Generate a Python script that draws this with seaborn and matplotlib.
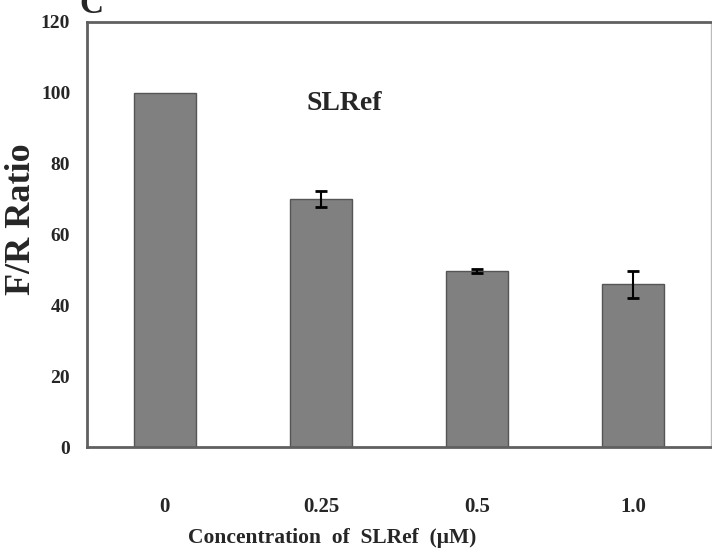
import pandas as pd
import matplotlib.pyplot as plt
import seaborn as sns

# Dados
concentracao = ['0', '0.25', '0.5', '1.0']
razao_fr = [100, 70, 49.7, 46]
erro = [float('nan'), 2.3, 0.5, 3.8]

df = pd.DataFrame({'conc': concentracao, 'ratio': razao_fr})

sns.set_style('white')
plt.rcParams['font.family'] = ['Liberation Serif', 'DejaVu Serif']
plt.rcParams['font.weight'] = 'bold'

fig = plt.figure(figsize=(7.12, 5.48), dpi=100)
ax = fig.add_axes([0.122, 0.184, 0.8766, 0.776])

sns.barplot(data=df, x='conc', y='ratio', color='#808080', width=0.4,
            edgecolor='#555555', linewidth=1, saturation=1, ax=ax)
ax.errorbar(x=range(len(concentracao)), y=razao_fr, yerr=erro, fmt='none',
            ecolor='black', elinewidth=1.5, capsize=4, capthick=2)

ax.set_ylim(0, 120)
ax.set_xlim(-0.5, 3.5)
ax.set_yticks(range(0, 121, 20))
ax.tick_params(axis='y', length=0, pad=12, labelsize=14)
ax.tick_params(axis='x', length=0, pad=36, labelsize=15)
for lab in ax.get_xticklabels() + ax.get_yticklabels():
    lab.set_fontweight('bold')

ax.set_ylabel('F/R Ratio', fontsize=26, fontweight='bold')
ax.yaxis.set_label_coords(-0.079, 0.536)
ax.set_xlabel('Concentration  of  SLRef  (\u03bcM)', fontsize=15.5, fontweight='bold')
ax.xaxis.set_label_coords(0.393, -0.19)

for lado in ['left', 'top', 'bottom']:
    ax.spines[lado].set_color('#606060')
    ax.spines[lado].set_linewidth(2)
ax.spines['right'].set_color('#bbbbbb')
ax.spines['right'].set_linewidth(1)

ax.text(1.15, 97, 'SLRef', fontsize=20, fontweight='bold', va='center', ha='center')
fig.text(0.112, 0.976, 'C', fontsize=24, fontweight='bold', va='baseline', ha='left')

plt.savefig('out.png', dpi=100)
